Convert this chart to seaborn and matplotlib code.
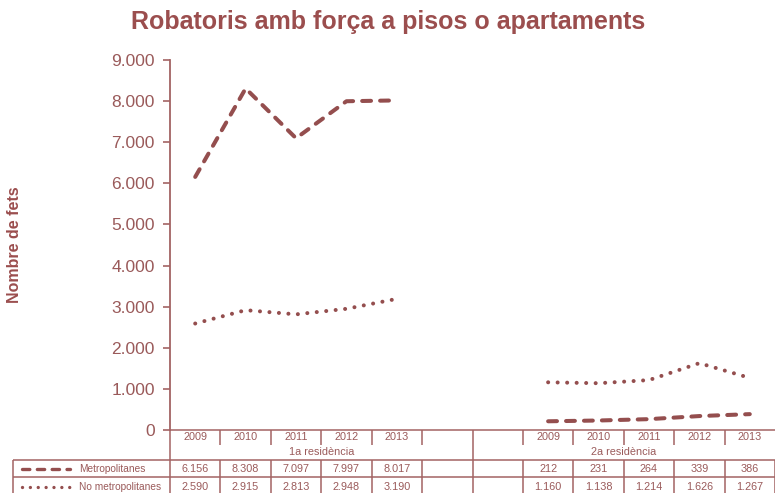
import matplotlib
matplotlib.use("Agg")
import matplotlib.pyplot as plt
import numpy as np
import pandas as pd
import seaborn as sns

# ---- data -------------------------------------------------------------
years = ["2009", "2010", "2011", "2012", "2013"]
groups = ["1a residència", "2a residència"]
series_names = ["Metropolitanes", "No metropolitanes"]
metro_1a = [6156, 8308, 7097, 7997, 8017]
nometro_1a = [2590, 2915, 2813, 2948, 3190]
metro_2a = [212, 231, 264, 339, 386]
nometro_2a = [1160, 1138, 1214, 1626, 1267]
yticks = [0, 1000, 2000, 3000, 4000, 5000, 6000, 7000, 8000, 9000]
title = "Robatoris amb força a pisos o apartaments"
ylabel = "Nombre de fets"

# slot layout along the category axis: 5 years, two empty slots, 5 years
n_slots = 12
slots_1a = [0, 1, 2, 3, 4]
slots_2a = [7, 8, 9, 10, 11]

LINE = "#944E4E"
TEXT = "#9A5A5A"
TITLE = "#9B4E4E"
GRID = "#A36363"


def fmt(v):
    return f"{v:,}".replace(",", ".")


sns.set_theme(style="white")
plt.rcParams["font.family"] = ["Liberation Sans", "DejaVu Sans"]

W, H = 775, 493
fig = plt.figure(figsize=(W / 100, H / 100), dpi=100)

x0, x1 = 170, 775
ytop, ybot = 60, 430
ax = fig.add_axes([x0 / W, 1 - ybot / H, (x1 - x0) / W, (ybot - ytop) / H])

records = []
for name, s1, s2 in [(series_names[0], metro_1a, metro_2a),
                     (series_names[1], nometro_1a, nometro_2a)]:
    for g, slots, vals in [(groups[0], slots_1a, s1), (groups[1], slots_2a, s2)]:
        for sl, v in zip(slots, vals):
            records.append({"serie": name, "grup": g, "slot": sl, "valor": v})
df = pd.DataFrame(records)

lw = 2.9
# dash patterns in units of line width (matplotlib scales them by lw)
styles = {
    series_names[0]: (2.2, 2.25),
    series_names[1]: (0.01, 2.35),
}
for name in series_names:
    for g in groups:
        sub = df[(df.serie == name) & (df.grup == g)]
        sns.lineplot(data=sub, x="slot", y="valor", ax=ax, color=LINE,
                     linewidth=lw, estimator=None, sort=False)
        line = ax.lines[-1]
        line.set_dashes(styles[name])
        line.set_dash_capstyle("round")
        line.set_solid_capstyle("round")

ax.set_xlim(-0.5, n_slots - 0.5)
ax.set_ylim(0, 9000)
ax.set_yticks(yticks)
ax.set_yticklabels([fmt(v) for v in yticks], color=TEXT, fontsize=12.5)
ax.set_xticks([])
ax.set_xlabel("")
ax.set_ylabel("")
for side in ["top", "right", "bottom"]:
    ax.spines[side].set_visible(False)
ax.spines["left"].set_color(GRID)
ax.spines["left"].set_linewidth(1.3)
ax.tick_params(axis="y", direction="out", length=5, width=1.2, color=GRID,
               pad=6, left=True)
ax.patch.set_alpha(0)

# title and axis label
fig.text(388 / W, 1 - 22 / H, title, ha="center", va="center",
         fontsize=18, fontweight="bold", color=TITLE)
fig.text(15 / W, 1 - 245 / H, ylabel, ha="center", va="center",
         rotation=90, fontsize=11.5, fontweight="bold", color=TITLE)

# ---- data table under the axis (pixel coordinates) --------------------
tab = fig.add_axes([0, 0, 1, 1])
tab.set_xlim(0, W)
tab.set_ylim(H, 0)
tab.axis("off")
tab.patch.set_alpha(0)

col_w = (x1 - x0) / n_slots
bounds = [x0 + i * col_w for i in range(n_slots + 1)]
centers = [x0 + (i + 0.5) * col_w for i in range(n_slots)]
lk = dict(color=GRID, linewidth=1.1, solid_capstyle="butt")

y_axis, y_yr, y_r1, y_r2, y_end = 430, 445, 460, 477, 494
tab.plot([x0, x1], [y_axis, y_axis], **lk)
tab.plot([13, x1], [y_r1, y_r1], **lk)
tab.plot([13, x1], [y_r2, y_r2], **lk)
tab.plot([13, 13], [y_r1, y_end], **lk)
tab.plot([x0, x0], [y_axis, y_end], **lk)
mid = bounds[6]
tab.plot([mid, mid], [y_axis, y_end], **lk)
for b in bounds[1:]:
    if b != mid:
        tab.plot([b, b], [y_r1, y_end], **lk)
        if b < x1 - 1:
            tab.plot([b, b], [y_axis, y_yr], **lk)

tk = dict(ha="center", va="center", color=TEXT, fontsize=7.8)
for slots in (slots_1a, slots_2a):
    for sl, yr in zip(slots, years):
        tab.text(centers[sl], 437.5, yr, **tk)
tab.text((x0 + mid) / 2, 452, groups[0], **tk)
tab.text((mid + x1) / 2, 452, groups[1], **tk)

for slots, vals, yy in [(slots_1a, metro_1a, 468.5), (slots_2a, metro_2a, 468.5),
                        (slots_1a, nometro_1a, 487), (slots_2a, nometro_2a, 487)]:
    for sl, v in zip(slots, vals):
        tab.text(centers[sl], yy, fmt(v), **tk)

# legend keys inside the table
for name, yy in [(series_names[0], 468.5), (series_names[1], 487)]:
    ln, = tab.plot([22, 70], [yy, yy], color=LINE, linewidth=2.4,
                   solid_capstyle="round")
    ln.set_dashes(styles[name])
    ln.set_dash_capstyle("round")
    tab.text(79, yy, name, ha="left", va="center", color=TEXT, fontsize=7.3)

fig.savefig("out.png", dpi=100)
